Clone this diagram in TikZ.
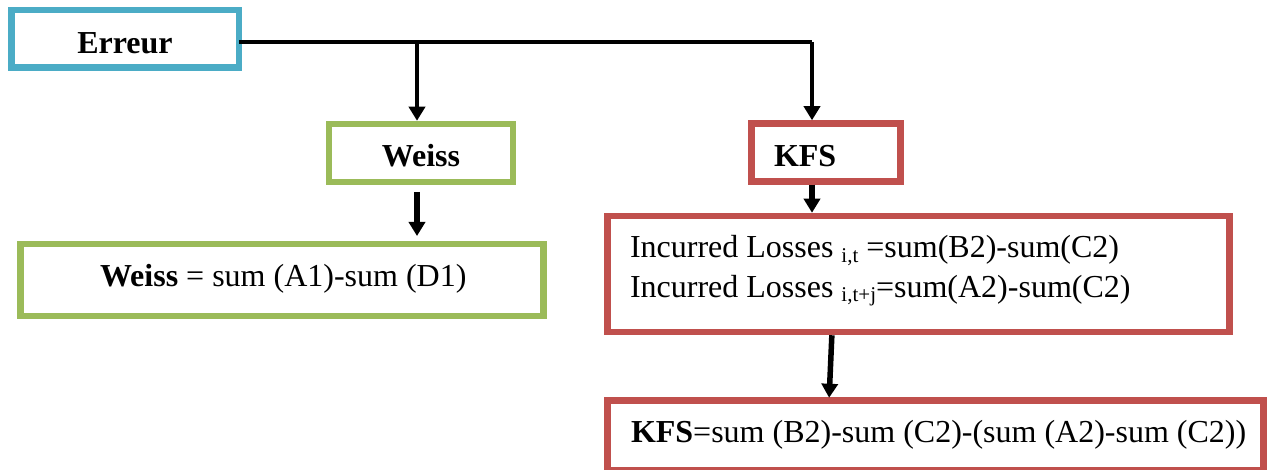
\documentclass[tikz,border=0pt]{standalone}
\usepackage{fontspec}
\setmainfont{Liberation Serif}
\usetikzlibrary{arrows.meta}

\definecolor{boxblue}{HTML}{4BACC6}
\definecolor{boxgreen}{HTML}{9BBB59}
\definecolor{boxred}{HTML}{C0504D}

% small lowered index after "Incurred Losses"
\newcommand{\lossidx}[1]{\raisebox{-4.5pt}{\fontsize{21}{21}\selectfont #1}}

\begin{document}
\begin{tikzpicture}[x=1pt,y=-1pt,
  every node/.style={inner sep=0pt, outer sep=0pt},
  frame/.style={draw, line width=6.5pt, rectangle, fill=white},
  txt/.style={font=\fontsize{32}{39}\selectfont, anchor=base},
  txtl/.style={font=\fontsize{32}{39}\selectfont, anchor=base west},
  tip/.style={-{Triangle[width=16pt,length=14pt]}},
  thinlink/.style={line width=3.5pt, tip},
  thicklink/.style={line width=5.5pt, tip}
]
\useasboundingbox (0,0) rectangle (1268,470);

% boxes
\node[frame, draw=boxblue,  minimum width=227.5pt, minimum height=57.5pt] (erreur) at (125.25,38.75) {};
\node[frame, draw=boxgreen, minimum width=184pt,   minimum height=58pt]   (weiss)  at (421,153) {};
\node[frame, draw=boxgreen, minimum width=523pt,   minimum height=72pt]   (weissf) at (282,280) {};
\node[frame, draw=boxred,   minimum width=149pt,   minimum height=58pt]   (kfs)    at (826,152.5) {};
\node[frame, draw=boxred,   minimum width=622pt,   minimum height=116pt]  (loss)   at (918.5,274) {};
\node[frame, draw=boxred,   minimum width=656pt,   minimum height=70pt]   (kfsf)   at (935.5,435.25) {};

% texts
\node[txt]  (terreur) at (125,53.3)  {\textbf{Erreur}};
\node[txt]  (tweiss)  at (421,166.7) {\textbf{Weiss}};
\node[txtl] (tweissf) at (100,286)   {\textbf{Weiss} = sum (A1)-sum (D1)};
\node[txtl] (tkfs)    at (774,166.7) {\textbf{KFS}};
\node[txtl] (tlossa)  at (630,258)   {Incurred Losses \lossidx{i,t} =sum(B2)-sum(C2)};
\node[txtl] (tlossb)  at (630,297)   {Incurred Losses \lossidx{i,t+j}=sum(A2)-sum(C2)};
\node[txtl] (tkfsf)   at (631,442)   {\textbf{KFS}=sum (B2)-sum (C2)-(sum (A2)-sum (C2))};

% connectors
\coordinate (branch) at (417,42);
\coordinate (bus)    at (812,42);
\draw[line width=3.5pt] (erreur.east |- bus) -- (bus);
\draw[thinlink, shorten >=3.25pt] (bus) -- (bus |- kfs.north);
\draw[thinlink, shorten >=3.25pt] (branch) -- (branch |- weiss.north);
\draw[thicklink, shorten <=10pt, shorten >=8pt] (branch |- weiss.south) -- (branch |- weissf.north);
\draw[thicklink, shorten <=3.25pt, shorten >=3.25pt] (bus |- kfs.south) -- (bus |- loss.north);
\draw[thicklink, shorten <=3.25pt, shorten >=2.5pt] ([xshift=-86.5pt]loss.south) -- ([xshift=-106.5pt]kfsf.north);
\end{tikzpicture}
\end{document}
